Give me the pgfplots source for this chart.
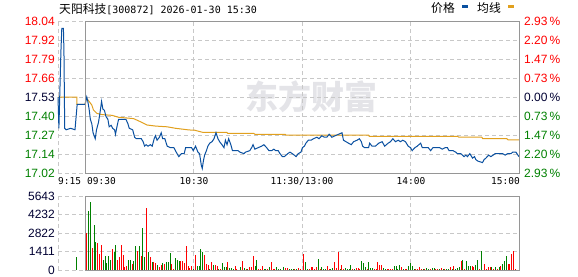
\documentclass[border=0pt]{standalone}
\usepackage{pgfplots}
\pgfplotsset{compat=1.18}
\usepackage{fontspec}
\setmainfont{Liberation Sans}
\newfontfamily\cjk{Noto Sans CJK SC}
\newfontfamily\mono{DejaVu Sans Mono}
\definecolor{pblue}{RGB}{10,80,160}
\definecolor{avgc}{RGB}{225,160,30}
\definecolor{upr}{RGB}{255,0,0}
\definecolor{dng}{RGB}{0,128,0}
\definecolor{navy}{RGB}{0,0,50}
\definecolor{gridc}{RGB}{200,200,200}
\definecolor{framec}{RGB}{150,150,150}
\definecolor{wmark}{RGB}{228,228,232}
\newcommand{\lbl}{\fontsize{12}{14}\selectfont}
\newcommand{\xl}{\mono\fontsize{9.5}{11}\selectfont}
\begin{document}
\begin{tikzpicture}[x=1pt,y=1pt]
\path[use as bounding box] (0,0) rectangle (578,276);
% watermark
\node[text=wmark, font=\cjk\bfseries\fontsize{33}{36}\selectfont, inner sep=0] at (311,179) {东方财富};
% ---------------- price panel ----------------
\begin{axis}[at={(58pt,103pt)}, anchor=south west, scale only axis,
  width=461pt, height=152pt,
  xmin=-15, xmax=240, ymin=17.02, ymax=18.04,
  xtick={-15,60,120,180}, ytick={17.02,17.1475,17.275,17.4025,17.53,17.6575,17.785,17.9125,18.04},
  xticklabels={,,}, yticklabels={,,},
  grid=major, grid style={gridc, dash pattern=on 4pt off 3pt, line width=0.8pt},
  axis line style={draw=none}, major tick length=0pt, clip=false]
\addplot[avgc, line width=1pt, mark=none] coordinates {
(-15,17.53) (-4.6,17.53) (-4.5,17.48) (0,17.48) (0.5,17.52) (1.3,17.515) (3.7,17.476) (4.6,17.443) (6.5,17.42) (9.3,17.412) (14.8,17.407) (18.5,17.394) (26.8,17.385) (30.6,17.364) (34.3,17.342) (38.9,17.335) (45.4,17.33) (50,17.32) (57.4,17.309) (60.6,17.307) (65,17.293) (78.3,17.293) (78.9,17.286) (93.3,17.286) (93.9,17.28) (110.6,17.28) (111.1,17.275) (156.7,17.275) (157.2,17.266) (206.1,17.266) (206.7,17.26) (219.4,17.26) (220,17.25) (233.3,17.25) (233.9,17.243) (240,17.243)
};
\addplot[pblue, line width=1pt, mark=none] coordinates {
(-15,17.53) (-14.5,17.32) (-13.4,17.83) (-12.9,17.99) (-12.0,17.99) (-11.7,17.83) (-11.3,17.32) (-10.5,17.31) (-8.0,17.32) (-5.6,17.31) (-4.4,17.48) (0,17.48)
(0.9,17.53) (1.5,17.50) (2.2,17.45) (2.9,17.38) (3.7,17.35) (4.4,17.29) (5.6,17.25) (6.3,17.31) (7.4,17.36) (8.3,17.43) (9.1,17.50) (9.8,17.45) (10.7,17.44) (11.5,17.40) (12.6,17.38) (13.3,17.33) (14.4,17.34) (15.2,17.32) (16.3,17.31) (16.8,17.28) (17.6,17.33) (18.5,17.38) (19.4,17.38) (22.6,17.38) (23.7,17.35) (24.4,17.32) (26.3,17.31) (27.4,17.26) (28.3,17.25) (31.1,17.25) (32.1,17.23) (32.9,17.20) (33.7,17.21) (34.8,17.20) (36.1,17.21) (37.1,17.20) (38.2,17.25) (38.9,17.27) (39.8,17.24) (41.1,17.26) (42.1,17.29) (42.9,17.25) (44.1,17.25) (45.4,17.20) (47.2,17.19) (49.1,17.19) (50.4,17.16) (51.8,17.13) (53.3,17.15) (54.8,17.15) (55.6,17.19) (58.9,17.19) (59.8,17.17) (61.1,17.20) (62.4,17.16) (63.3,17.15) (64.3,17.07) (64.8,17.05) (65.4,17.10) (66.1,17.14) (67.1,17.17) (67.9,17.20) (68.9,17.22) (70.2,17.23) (71.3,17.25) (72.4,17.29) (73.5,17.25) (74.4,17.23) (75.7,17.21) (76.8,17.19) (77.6,17.24) (78.5,17.21) (79.4,17.25) (80.6,17.21) (81.5,17.17) (84.6,17.17) (85.6,17.16) (87.9,17.15) (88.7,17.16) (91.1,17.17) (92.1,17.19) (92.9,17.21) (93.9,17.18) (95.7,17.19) (97.6,17.20) (98.9,17.21) (100.4,17.19) (101.7,17.17) (103.2,17.17) (104.4,17.18) (105.4,17.17) (106.8,17.17) (107.8,17.15) (109.1,17.13) (110.2,17.13) (112.1,17.15) (113.3,17.16) (114.6,17.15) (115.7,17.14) (116.7,17.13) (117.9,17.15) (119.4,17.16) (120.2,17.19) (121.3,17.20) (122.1,17.22) (123.5,17.24) (125,17.24) (126.3,17.25) (128.2,17.26) (129.4,17.25) (130.9,17.27) (132.4,17.26) (133.7,17.26) (135,17.28) (136.5,17.26) (138.3,17.27) (140.2,17.28) (142.1,17.29) (142.9,17.24) (144.3,17.23) (145.7,17.22) (147.2,17.21) (148.5,17.23) (150.4,17.24) (151.7,17.25) (152.8,17.23) (153.5,17.20) (154.6,17.19) (156.8,17.19) (157.4,17.22) (158.7,17.20) (160.6,17.20) (162.4,17.22) (164.3,17.23) (165.7,17.20) (167.6,17.22) (168.9,17.23) (170.2,17.25) (171.7,17.23) (173.2,17.24) (174.4,17.23) (175.7,17.24) (177.2,17.23) (178.7,17.20) (180,17.19) (180.9,17.17) (182.4,17.19) (183.7,17.20) (184.6,17.21) (185.6,17.22) (186.5,17.19) (188.3,17.19) (189.8,17.19) (191.1,17.17) (192.4,17.19) (194.3,17.19) (196.1,17.19) (197.6,17.18) (199.1,17.19) (200.4,17.19) (201.3,17.17) (203.5,17.17) (205,17.16) (205.9,17.15) (207.8,17.15) (208.7,17.14) (209.6,17.13) (210.6,17.14) (211.5,17.13) (212.8,17.15) (214.3,17.12) (215.4,17.13) (216.1,17.11) (217.2,17.10) (219.8,17.09) (220.7,17.11) (221.7,17.12) (223.2,17.14) (224.4,17.13) (225.7,17.14) (226.8,17.15) (228.7,17.15) (230.9,17.15) (232.4,17.14) (233.7,17.15) (235.6,17.15) (236.5,17.16) (238.3,17.16) (239.4,17.14) (240,17.13)
};
\draw[framec, line width=1pt] (axis cs:0,17.02) rectangle (axis cs:240,18.04);
\end{axis}
% ---------------- volume panel ----------------
\begin{axis}[at={(58pt,6pt)}, anchor=south west, scale only axis,
  width=461pt, height=74pt,
  xmin=-15, xmax=240, ymin=0, ymax=5643,
  xtick={-15,60,120,180}, ytick={0,1411,2822,4232,5643},
  xticklabels={,,}, yticklabels={,,},
  grid=major, grid style={gridc, dash pattern=on 4pt off 3pt, line width=0.8pt},
  axis line style={draw=none}, major tick length=0pt, clip=false]
\addplot[ycomb, upr, line width=1pt, mark=none] coordinates {
(1,2822) (4,1678) (7,2059) (8,1220) (9,1906) (15,1601) (18,763) (19,991) (20,1906) (21,1144) (22,229) (23,305) (26,458) (29,1449) (31,1068) (34,4728) (36,991) (38,610) (39,534) (41,229) (42,381) (44,458) (48,458) (49,76) (53,686) (54,686) (55,534) (56,1830) (57,305) (58,152) (59,305) (61,1144) (66,1144) (67,458) (68,381) (70,610) (72,381) (73,305) (75,76) (79,610) (83,305) (84,76) (87,686) (89,76) (91,229) (92,229) (93,1068) (96,76) (97,76) (98,305) (101,76) (103,610) (104,76) (105,76) (111,152) (112,152) (116,76) (118,152) (119,76)
(121,1220) (124,76) (125,229) (126,229) (127,76) (128,229) (130,76) (134,305) (135,76) (138,610) (139,152) (140,1373) (142,381) (143,76) (148,76) (150,152) (151,152) (152,76) (156,76) (160,76) (161,76) (162,610) (163,381) (164,381) (167,76) (168,76) (169,76) (170,76) (175,229) (177,76) (178,76) (183,76) (184,76) (185,229) (186,76) (188,76) (191,76) (194,76) (195,76) (197,152) (199,76) (202,229) (204,305) (208,686) (210,76) (214,305) (215,229) (218,76) (221,458) (222,76) (223,229) (224,229) (226,76) (228,76) (230,305) (234,458) (235,458) (236,1220) (237,1449) (238,76)
};
\addplot[ycomb, dng, line width=1pt, mark=none] coordinates {
(-4.5,1017) (2,4525) (3,5186) (5,3432) (6,2135) (10,763) (11,1068) (12,534) (13,1068) (14,763) (16,1373) (17,1906) (24,763) (25,763) (27,686) (28,1830) (30,1830) (32,3203) (33,991) (35,1373) (37,610) (40,381) (43,534) (45,610) (46,610) (47,1296) (50,915) (51,763) (52,686) (60,76) (62,305) (63,305) (64,1601) (65,1373) (69,76) (71,381) (74,76) (76,534) (77,229) (78,229) (80,152) (81,152) (82,76) (86,229) (88,152) (90,76) (94,305) (95,763) (99,76) (100,76) (102,229) (106,229) (107,76) (108,76) (110,229) (113,76) (114,76) (115,76) (117,76)
(122,610) (123,76) (129,839) (131,229) (132,76) (133,76) (136,76) (137,152) (141,76) (144,152) (145,76) (146,76) (147,381) (149,76) (153,686) (154,534) (155,229) (157,610) (158,152) (159,152) (165,152) (166,76) (171,305) (172,305) (173,76) (174,381) (176,76) (179,305) (180,534) (181,305) (182,76) (187,76) (189,152) (190,76) (192,152) (193,152) (196,76) (198,76) (200,76) (201,76) (203,76) (205,76) (206,152) (207,229) (209,763) (211,686) (212,305) (213,305) (216,381) (217,763) (219,1449) (225,229) (227,229) (229,229) (231,458) (232,686) (233,1068) (240,1601)
};
\draw[framec, line width=1pt] (axis cs:0,0) rectangle (axis cs:240,5643);
\end{axis}
% ---------------- labels ----------------
\begin{scope}[every node/.style={inner sep=0pt, font=\lbl}]
\node[anchor=east, text=upr] at (55,255) {18.04};
\node[anchor=east, text=upr] at (55,236) {17.92};
\node[anchor=east, text=upr] at (55,217) {17.79};
\node[anchor=east, text=upr] at (55,198) {17.66};
\node[anchor=east, text=navy] at (55,179) {17.53};
\node[anchor=east, text=dng] at (55,160) {17.40};
\node[anchor=east, text=dng] at (55,141) {17.27};
\node[anchor=east, text=dng] at (55,122) {17.14};
\node[anchor=east, text=dng] at (55,103) {17.02};
\node[anchor=west, text=upr] at (524,255) {2.93\,\%};
\node[anchor=west, text=upr] at (524,236) {2.20\,\%};
\node[anchor=west, text=upr] at (524,217) {1.47\,\%};
\node[anchor=west, text=upr] at (524,198) {0.73\,\%};
\node[anchor=west, text=navy] at (524,179) {0.00\,\%};
\node[anchor=west, text=dng] at (524,160) {0.73\,\%};
\node[anchor=west, text=dng] at (524,141) {1.47\,\%};
\node[anchor=west, text=dng] at (524,122) {2.20\,\%};
\node[anchor=west, text=dng] at (524,103) {2.93\,\%};
\node[anchor=east, text=navy] at (55,80) {5643};
\node[anchor=east, text=navy] at (55,61.5) {4232};
\node[anchor=east, text=navy] at (55,43) {2822};
\node[anchor=east, text=navy] at (55,24.5) {1411};
\node[anchor=east, text=navy] at (55,6) {0};
\end{scope}
\begin{scope}[every node/.style={inner sep=0pt, font=\xl, text=black}]
\node[anchor=west] at (58,95) {9:15};
\node[anchor=west] at (87,95) {09:30};
\node at (194,95) {10:30};
\node at (302,95) {11:30/13:00};
\node at (411,95) {14:00};
\node[anchor=east] at (520,95) {15:00};
\end{scope}
% title and legend
\node[anchor=base west, inner sep=0pt] at (59,262.5) {{\cjk\fontsize{11.8}{13}\selectfont 天阳科技}{\mono\fontsize{10}{12}\selectfont [300872] 2026-01-30 15:30}};
\node[anchor=base west, inner sep=0pt, font=\cjk\fontsize{11.8}{13}\selectfont] at (431,263) {价格};
\fill[pblue] (462,268) rectangle (468,271);
\node[anchor=base west, inner sep=0pt, font=\cjk\fontsize{11.8}{13}\selectfont] at (477,263) {均线};
\fill[avgc] (508,268) rectangle (514,271);
\end{tikzpicture}
\end{document}
